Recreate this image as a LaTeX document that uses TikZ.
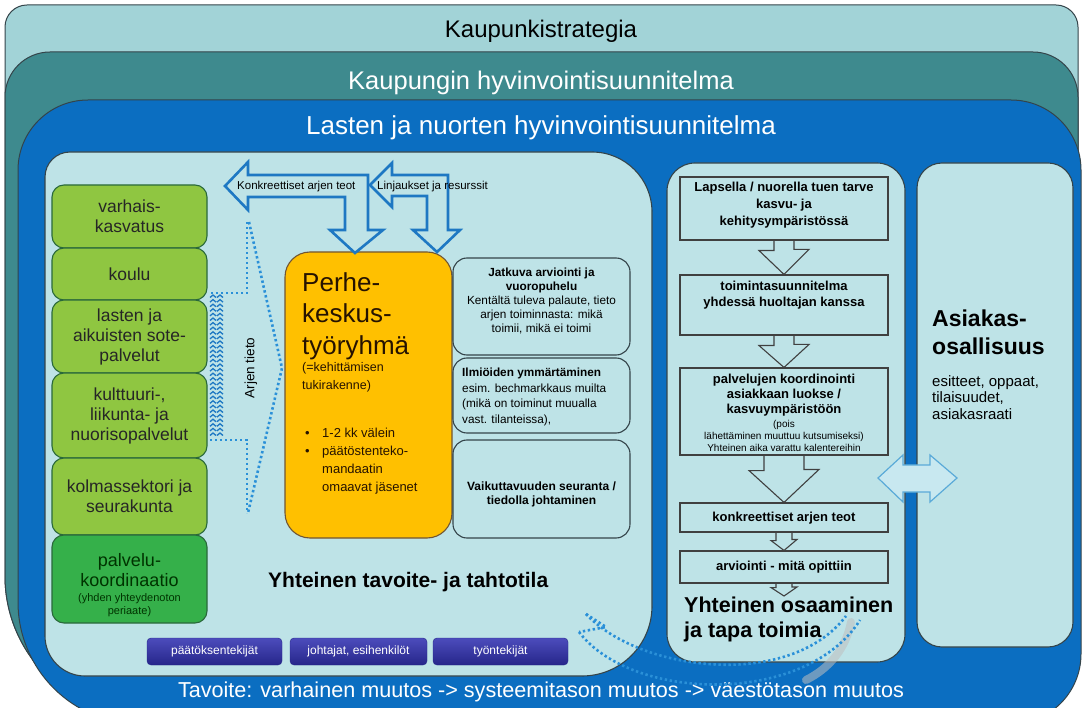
\documentclass[tikz,border=0pt]{standalone}
\usepackage{fontspec}
\setmainfont{Liberation Sans}
\usetikzlibrary{calc}
\definecolor{tealA}{HTML}{A2D3D7}
\definecolor{tealB}{HTML}{3E8A8E}
\definecolor{blueC}{HTML}{0B6EC1}
\definecolor{panel}{HTML}{BEE3E7}
\definecolor{lgreen}{HTML}{8FC641}
\definecolor{dgreen}{HTML}{35B04A}
\definecolor{myorange}{HTML}{FFC000}
\definecolor{arrowblue}{HTML}{1E78C3}
\definecolor{dotblue}{HTML}{2A90D8}
\definecolor{btnA}{HTML}{4C4CBC}
\definecolor{btnB}{HTML}{26268A}
\definecolor{frame}{HTML}{34444A}
\definecolor{darrow}{HTML}{C8E8F0}
\definecolor{darrowline}{HTML}{5AAAD8}
\newcommand\fsz[2]{\fontsize{#1}{#2}\selectfont}
\newcommand\rrbox[8]{({#1},{#2+#5}) .. controls ({#1},{#2+0.4477*#5}) and ({#1+0.4477*#5},{#2}) .. ({#1+#5},{#2}) -- ({#3-#6},{#2}) .. controls ({#3-0.4477*#6},{#2}) and ({#3},{#2+0.4477*#6}) .. ({#3},{#2+#6}) -- ({#3},{#4-#7}) .. controls ({#3},{#4-0.4477*#7}) and ({#3-0.4477*#7},{#4}) .. ({#3-#7},{#4}) -- ({#1+#8},{#4}) .. controls ({#1+0.4477*#8},{#4}) and ({#1},{#4-0.4477*#8}) .. ({#1},{#4-#8}) -- cycle}
\tikzset{
  gbox/.style={draw=frame!80!green, fill=lgreen, rounded corners=12pt, line width=1.1pt,
    minimum width=155pt, align=center, inner sep=0pt, font=\fsz{17.5}{20}, text=black!85},
  rbox/.style={draw=frame, fill=panel, rounded corners=14pt, line width=1.1pt, minimum width=177pt, inner sep=0pt},
  fbox/.style={draw=black!75, fill=panel, line width=1.1pt, minimum width=208pt, inner sep=0pt},
  btn/.style={rounded corners=4pt, top color=btnA, bottom color=btnB, draw=btnB, minimum height=27pt,
    text=white, font=\fsz{12}{14}, inner sep=0pt},
  bigarrow/.style={fill=panel, draw=arrowblue, line width=2.6pt, line join=miter},
  hollow/.style={draw=black!75, line width=1.1pt, line join=miter},
  dots/.style={draw=dotblue, line width=2.6pt, dash pattern=on 2.4pt off 2.6pt},
  zz/.style={draw=arrowblue, line width=1.3pt},
  txt/.style={inner sep=0pt, text=black}
}
\begin{document}
\begin{tikzpicture}[x=1pt,y=-1pt]
\useasboundingbox (0,0) rectangle (1082,708);
\clip (0,0) rectangle (1082,708);
\fill[white] (0,0) rectangle (1082,708);
% nested frames
\path[fill=tealA, draw=frame, line width=1pt] \rrbox{5}{5}{1078}{716}{22}{22}{90}{140};
\path[fill=tealB, draw=frame, line width=1pt] \rrbox{5}{52}{1078}{716}{45}{45}{90}{140};
\path[fill=blueC, draw=frame, line width=1pt] \rrbox{18}{100}{1081}{724}{70}{70}{70}{122};
\node[txt, font=\fsz{24}{28}] (t1) at (541,31) {Kaupunkistrategia};
\node[txt, text=white, font=\fsz{25.5}{30}] (t2) at (541,83) {Kaupungin hyvinvointisuunnitelma};
\node[txt, text=white, font=\fsz{26}{30}] (t3) at (541,128) {Lasten ja nuorten hyvinvointisuunnitelma};
\node[txt, text=white, font=\fsz{21.6}{26}] (goal) at (541,692) {Tavoite: varhainen muutos -> systeemitason muutos -> väestötason muutos};
% panels
\path[fill=panel, draw=frame, line width=1.1pt] \rrbox{45}{152}{652}{676}{25}{60}{70}{40};
\path[fill=panel, draw=frame, line width=1.1pt] \rrbox{667}{163}{905}{662}{28}{28}{28}{28};
\path[fill=panel, draw=frame, line width=1.1pt] \rrbox{917}{163}{1073}{647}{25}{25}{25}{25};
% green column
\node[gbox, minimum height=63pt] (g1) at (129.5,216.5) {varhais-\\kasvatus};
\node[gbox, minimum height=52pt] (g2) at (129.5,274) {koulu};
\node[gbox, minimum height=73pt] (g3) at (129.5,336.5) {lasten ja\\aikuisten sote-\\palvelut};
\node[gbox, minimum height=85pt] (g4) at (129.5,415.5) {kulttuuri-,\\liikunta- ja\\nuorisopalvelut};
\node[gbox, minimum height=77pt] (g5) at (129.5,496.5) {kolmassektori ja\\seurakunta};
\node[gbox, fill=dgreen, minimum height=88pt] (g6) at (129.5,579) {};
\node[txt, align=center, text=black!80!green, font=\fsz{18}{20}] (g6a) at (129.5,570) {palvelu-\\koordinaatio};
\node[txt, align=center, text=black!80!green, font=\fsz{11}{13.5}] (g6b) at (129.5,605) {(yhden yhteydenoton\\periaate)};
% orange box
\node[draw=frame!70!orange, fill=myorange, rounded corners=25pt, line width=1.1pt,
  minimum width=167pt, minimum height=286pt, inner sep=0pt] (pk) at (368.5,395) {};
\node[txt, anchor=north west, align=left, text=black!85!orange, font=\fsz{26}{31.5}] (pkt) at (302,272) {Perhe-\\keskus-\\työryhmä};
\node[txt, anchor=north west, align=left, text=black!85!orange, font=\fsz{12.5}{18}] (pks) at (302,362) {(=kehittämisen\\tukirakenne)};
\node[txt, anchor=north west, text=black!85!orange, font=\fsz{13}{18}] (pkb) at (303,425)
 {\begin{tabular}{@{}p{19pt}@{}l@{}}\hspace{2pt}• & 1-2 kk välein\\ \hspace{2pt}• & päätöstenteko-\\ & mandaatin\\ & omaavat jäsenet\end{tabular}};
% right column of left panel
\node[rbox, minimum height=97pt] (ra) at (541.5,306.5) {};
\node[txt, align=center, font=\fsz{11.8}{14.2}] (rat) at (541.5,301) {\textbf{Jatkuva arviointi ja}\\\textbf{vuoropuhelu}\\Kentältä tuleva palaute, tieto\\arjen toiminnasta: mikä\\toimii, mikä ei toimi};
\node[rbox, minimum height=75pt] (rb) at (541.5,395.5) {};
\node[txt, anchor=west, align=left, font=\fsz{11.8}{15.5}] (rbt) at (462,397) {\textbf{Ilmiöiden ymmärtäminen}\\esim. bechmarkkaus muilta\\(mikä on toiminut muualla\\vast. tilanteissa),};
\node[rbox, minimum height=98pt] (rc) at (541.5,489) {};
\node[txt, align=center, font=\bfseries\fsz{12}{14}] (rct) at (541.5,494) {Vaikuttavuuden seuranta /\\tiedolla johtaminen};
% big bent arrows
\path[bigarrow] (225,186) -- (248,162) -- (248,175) -- (368,175) -- (368,230) -- (383,230) -- (355,253) -- (330,230) -- (345,230) -- (345,197) -- (248,197) -- (248,210) -- cycle;
\path[bigarrow] (370,185) -- (392,163) -- (392,175) -- (448,175) -- (448,230) -- (460,230) -- (437,252) -- (413,230) -- (427,230) -- (427,196) -- (392,196) -- (392,207) -- cycle;
\node[txt, anchor=west, font=\fsz{11.5}{13}] (kat) at (237,187) {Konkreettiset arjen teot};
\node[txt, anchor=west, font=\fsz{11.5}{13}] (lin) at (377,187) {Linjaukset ja resurssit};
% Arjen tieto dotted bracket
\draw[dots] (247,222) -- (247,293) -- (210,293);
\draw[dots] (210,440) -- (247,440) -- (247,513);
\draw[dots] (249,222) -- (282,368) -- (248,513);
\foreach \yy in {295,299.6,...,437} {\draw[zz] (210,{\yy+2.5}) -- (213,\yy) -- (216,{\yy+2.5}) (217,{\yy+2.5}) -- (220,\yy) -- (223,{\yy+2.5});}
\node[txt, rotate=90, font=\fsz{13.5}{16}] (arj) at (251,368) {Arjen tieto};
% shared goal text and buttons
\node[txt, anchor=west, font=\bfseries\fsz{21}{25}] (yt) at (268,582) {Yhteinen tavoite- ja tahtotila};
\node[btn, minimum width=135pt] (p1) at (214.5,651.5) {päätöksentekijät};
\node[btn, minimum width=137pt] (p2) at (358.5,651.5) {johtajat, esihenkilöt};
\node[btn, minimum width=135pt] (p3) at (500.5,651.5) {työntekijät};
% flow in middle panel
\node[fbox, minimum height=63pt] (b1) at (784,208.5) {};
\node[txt, align=center, font=\bfseries\fsz{13}{17}] (b1t) at (784,205) {Lapsella / nuorella tuen tarve\\kasvu- ja\\kehitysympäristössä};
\node[fbox, minimum height=60pt] (b2) at (784,305) {};
\node[txt, align=center, font=\bfseries\fsz{13}{16}] (b2t) at (784,295) {toimintasuunnitelma\\yhdessä huoltajan kanssa};
\node[fbox, minimum height=87pt] (b3) at (784,411.5) {};
\node[txt, align=center, font=\bfseries\fsz{13}{15}] (b3t) at (784,395) {palvelujen koordinointi\\asiakkaan luokse /\\kasvuympäristöön};
\node[txt, align=center, font=\fsz{10}{12}] (b3s) at (784,435.5) {(pois\\lähettäminen muuttuu kutsumiseksi)\\Yhteinen aika varattu kalentereihin};
\node[fbox, minimum height=29pt] (b4) at (784,517.5) {};
\node[txt, font=\bfseries\fsz{13}{15}] (b4t) at (784,518) {konkreettiset arjen teot};
\node[fbox, minimum height=32pt] (b5) at (784,567) {};
\node[txt, font=\bfseries\fsz{13}{15}] (b5t) at (784,567) {arviointi - mitä opittiin};
\draw[hollow] ($(b1.south)+(-10,0)$) -- ++(0,10) -- ++(-15,0) -- (b2.north) -- ++(25,-25) -- ++(-15,0) -- ++(0,-10);
\draw[hollow] ($(b2.south)+(-10,0)$) -- ++(0,10) -- ++(-15,0) -- (b3.north) -- ++(25,-23) -- ++(-15,0) -- ++(0,-10);
\draw[hollow] ($(b3.south)+(-20,0)$) -- ++(0,15) -- ++(-15,0) -- (b4.north) -- ++(35,-33) -- ++(-15,0) -- ++(0,-15);
\draw[hollow] ($(b4.south)+(-8,0)$) -- ++(0,8) -- ++(-5,0) -- (b5.north) -- ++(13,-11) -- ++(-5,0) -- ++(0,-8);
\node[txt, anchor=north west, align=left, font=\bfseries\fsz{21.5}{25}] (yo) at (684,597) {Yhteinen osaaminen\\ja tapa toimia};
\draw[hollow] ($(b5.south)+(-8,0)$) -- ++(0,4) -- ++(-5,0) -- (784,596) -- ++(13,-9) -- ++(-5,0) -- ++(0,-4);
% right panel text
\node[txt, anchor=north west, align=left, font=\bfseries\fsz{23}{28}] (as) at (932,310) {Asiakas-\\osallisuus};
\node[txt, anchor=north west, align=left, font=\fsz{15}{16.5}] (ast) at (932,375) {esitteet, oppaat,\\tilaisuudet,\\asiakasraati};
% double arrow
\path[fill=darrow, draw=darrowline, line width=1.2pt] (878,478) -- (903,455) -- (903,465) -- (930,465) -- (930,455) -- (957,478) -- (930,502) -- (930,492) -- (903,492) -- (903,502) -- cycle;
% curved dotted arrow at the bottom
\draw[line width=8pt, black!25, opacity=0.55, line cap=round] (851,622) .. controls (846,648) and (830,668) .. (806,680);
\draw[dots] (586,614) .. controls (640,672) and (790,690) .. (846,616);
\draw[dots] (579,632) .. controls (632,702) and (806,706) .. (860,620);
\draw[dots] (586,614) -- (606,627) -- (579,632);
\end{tikzpicture}
\end{document}
